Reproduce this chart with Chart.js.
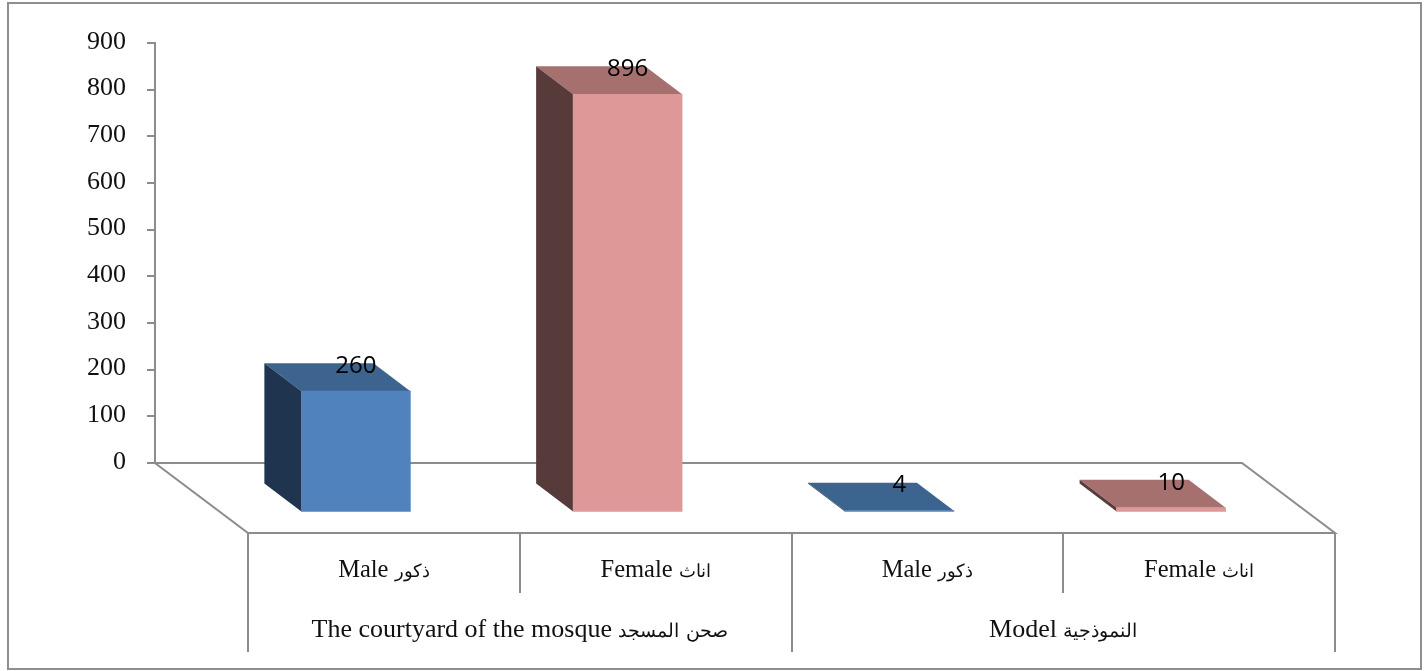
<!DOCTYPE html>
<html>
<head>
<meta charset="utf-8">
<style>
html,body{margin:0;padding:0;background:#fff}canvas{display:block}
@font-face{font-family:"ArabicCompact";src:local("DejaVu Sans");size-adjust:72%;unicode-range:U+0600-06FF,U+FB50-FDFF,U+FE70-FEFF}
</style>
<script src="https://cdn.jsdelivr.net/npm/chart.js@4/dist/chart.umd.js"></script>
</head>
<body>
<canvas id="c" width="1427" height="671"></canvas>
<script>
const categories = ["Male ذكور", "Female اناث", "Male ذكور", "Female اناث"];
const groups = ["The courtyard of the mosque صحن المسجد", "Model النموذجية"];
const values = [260, 896, 4, 10];
const frontColors = ["#5082BE", "#DE9897", "#5082BE", "#DE9897"];
const sideColors = ["#1F344F", "#573B3B", "#1F344F", "#573B3B"];
const topColors = ["#3D638F", "#A6706E", "#3D638F", "#A6706E"];

const LINE = "#8c8c8c";
const SERIF = '"ArabicCompact","Liberation Serif","DejaVu Serif",serif';
const SHIFT_X = -28, SHIFT_Y = 49.5; // bar front plane relative to the axis plane
const DEPTH_X = 37, DEPTH_Y = 28;    // extrusion toward the back
const FLOOR_DX = 93, FLOOR_DY = 70;  // floor depth

function poly(ctx, pts, fill) {
  ctx.beginPath();
  pts.forEach((p, i) => i ? ctx.lineTo(p[0], p[1]) : ctx.moveTo(p[0], p[1]));
  ctx.closePath();
  ctx.fillStyle = fill;
  ctx.fill();
}

const frame3d = {
  id: "frame3d",
  beforeDraw(chart) {
    const ctx = chart.ctx;
    ctx.save();
    ctx.fillStyle = "#fff";
    ctx.fillRect(0, 0, chart.width, chart.height);
    ctx.strokeStyle = "#8f8f8f";
    ctx.lineWidth = 2;
    ctx.strokeRect(8, 3, 1413, 666);
    ctx.restore();
  },
  beforeDatasetsDraw(chart) {
    const ctx = chart.ctx, a = chart.chartArea;
    const x = chart.scales.x, x2 = chart.scales.x2;
    const half = (x.getPixelForValue(1) - x.getPixelForValue(0)) / 2;
    const floorY = a.bottom + FLOOR_DY;
    ctx.save();
    ctx.strokeStyle = LINE;
    ctx.lineWidth = 2;
    ctx.beginPath();
    ctx.moveTo(a.left - FLOOR_DX, a.bottom);
    ctx.lineTo(a.right - FLOOR_DX, a.bottom);
    ctx.lineTo(a.right, floorY);
    ctx.lineTo(a.left, floorY);
    ctx.closePath();
    categories.forEach((_, i) => {
      const px = Math.round(x.getPixelForValue(i) - half);
      if (i % 2) { ctx.moveTo(px, floorY); ctx.lineTo(px, x.bottom); }
    });
    const half2 = (x2.getPixelForValue(1) - x2.getPixelForValue(0)) / 2;
    [0, 1, 2].forEach(i => {
      const px = Math.round(x2.getPixelForValue(0) - half2 + i * half2 * 2);
      ctx.moveTo(px, floorY); ctx.lineTo(px, x2.bottom);
    });
    ctx.stroke();
    ctx.restore();
  },
  beforeDatasetDraw(chart, args) {
    const ctx = chart.ctx;
    ctx.save();
    ctx.translate(SHIFT_X, SHIFT_Y);
    args.meta.data.forEach((bar, i) => {
      const p = bar.getProps(["x", "y", "base", "width"], true);
      const l = p.x - p.width / 2, r = p.x + p.width / 2;
      poly(ctx, [[l, p.y], [r, p.y], [r - DEPTH_X, p.y - DEPTH_Y], [l - DEPTH_X, p.y - DEPTH_Y]], topColors[i]);
      poly(ctx, [[l, p.y], [l, p.base], [l - DEPTH_X, p.base - DEPTH_Y], [l - DEPTH_X, p.y - DEPTH_Y]], sideColors[i]);
    });
  },
  afterDatasetDraw(chart, args) {
    const ctx = chart.ctx;
    ctx.restore();
    ctx.save();
    ctx.fillStyle = "#000";
    ctx.font = '24px "Open Sans",sans-serif';
    ctx.textAlign = "center";
    ctx.textBaseline = "middle";
    args.meta.data.forEach((bar, i) => {
      const p = bar.getProps(["x", "y"], true);
      ctx.fillText(String(values[i]), p.x + SHIFT_X, p.y + SHIFT_Y - 25);
    });
    ctx.restore();
  },
  afterLayout(chart) {
    const y = chart.scales.y;
    y.left -= FLOOR_DX;
    y.right -= FLOOR_DX;
  }
};

function build() {
  new Chart(document.getElementById("c"), {
    type: "bar",
    data: {
      labels: categories,
      datasets: [{
        data: values,
        backgroundColor: frontColors,
        borderWidth: 0,
        barThickness: 109,
        clip: false
      }]
    },
    plugins: [frame3d],
    options: {
      responsive: false,
      animation: false,
      layout: { padding: { left: 0, right: 92, top: 43, bottom: 19 } },
      plugins: { legend: { display: false }, tooltip: { enabled: false }, title: { display: false } },
      scales: {
        y: {
          min: 0, max: 900,
          afterFit(s) { s.width = 248; },
          border: { color: LINE, width: 2 },
          grid: { drawOnChartArea: false, color: LINE, lineWidth: 2, tickLength: 8 },
          ticks: { stepSize: 100, color: "#111", padding: 21, labelOffset: -1, font: { family: SERIF, size: 26 } }
        },
        x: {
          weight: 0,
          afterFit(s) { s.height = 130; },
          border: { display: false },
          grid: { display: false },
          ticks: { color: "#111", padding: 85, maxRotation: 0, autoSkip: false, font: { family: SERIF, size: 24.5 } }
        },
        x2: {
          type: "category",
          axis: "x",
          position: "bottom",
          weight: 1,
          labels: groups,
          afterFit(s) { s.height = 59; },
          border: { display: false },
          grid: { display: false },
          ticks: { color: "#111", padding: 14, maxRotation: 0, autoSkip: false, font: { family: SERIF, size: 26 } }
        }
      }
    }
  });
}

document.fonts.load('24px "ArabicCompact"', "ذكور").then(build, build);
</script>
</body>
</html>
